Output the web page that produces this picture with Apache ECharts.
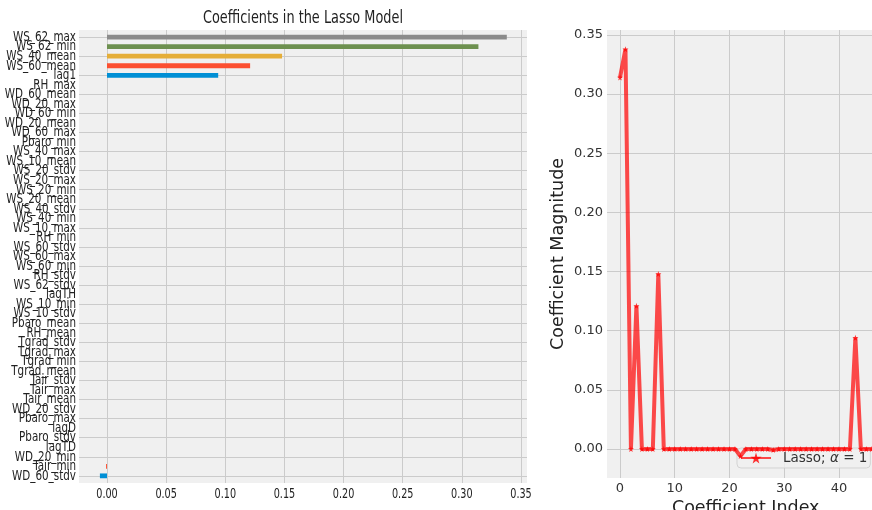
<!DOCTYPE html>
<html>
<head>
<meta charset="utf-8">
<script src="https://cdn.jsdelivr.net/npm/echarts@6/dist/echarts.min.js"></script>
<style>
html,body{margin:0;padding:0;background:#fff;}
#c{width:872px;height:510px;}
</style>
</head>
<body>
<div id="c"></div>
<script>
// Feature names, bottom to top as drawn in the bar chart
const barCategories = [
  'WD_60_stdv','Tair_min','WD_20_min','lagTD','Pbaro_stdv','lagD','Pbaro_max','WD_20_stdv',
  'Tair_mean','Tair_max','Tair_stdv','Tgrad_mean','Tgrad_min','Tgrad_max','Tgrad_stdv','RH_mean',
  'Pbaro_mean','WS_10_stdv','WS_10_min','lagTH','WS_62_stdv','RH_stdv','WS_60_min','WS_60_max',
  'WS_60_stdv','RH_min','WS_10_max','WS_40_min','WS_40_stdv','WS_20_mean','WS_20_min','WS_20_max',
  'WS_20_stdv','WS_10_mean','WS_40_max','Pbaro_min','WD_60_max','WD_20_mean','WD_60_min','WD_20_max',
  'WD_60_mean','RH_max','lag1','WS_60_mean','WS_40_mean','WS_62_min','WS_62_max'
];
const barValues = [
  -0.006, -0.0008, 0, 0, 0, 0, 0, 0,
  0, 0, 0, 0, 0, 0, 0, 0,
  0, 0, 0, 0, 0, 0, 0, 0,
  0, 0, 0, 0, 0, 0, 0, 0,
  0, 0, 0, 0, 0, 0, 0, 0,
  0, 0, 0.094, 0.121, 0.148, 0.314, 0.338
];
// tick labels of the bar chart's value axis
const barTicks = [0, 0.05, 0.10, 0.15, 0.20, 0.25, 0.30, 0.35];
// Lasso coefficients by index (right panel)
const lassoCoef = [
  0.314, 0.338, 0, 0.121, 0, 0, 0, 0.148,
  0, 0, 0, 0, 0, 0, 0, 0, 0, 0, 0, 0, 0, 0,
  -0.006,
  0, 0, 0, 0, 0,
  -0.0008,
  0, 0, 0, 0, 0, 0, 0, 0, 0, 0, 0, 0, 0, 0,
  0.094,
  0, 0, 0
];
const barTitle = 'Coefficients in the Lasso Model';
const lineName = 'Lasso; α = 1';
const xIndexName = 'Coefficient Index';
const yMagName = 'Coefficient Magnitude';

const palette = ['#008fd5','#fc4f30','#e5ae38','#6d904f','#8b8b8b','#810f7c'];
const fam = 'DejaVu Sans';
const dv = '"DejaVu Sans", sans-serif';
const gridColor = '#cbcbcb';

// The left panel's text is horizontally condensed: measure and compress to the reference widths
const cv = document.createElement('canvas').getContext('2d');
function w(txt, size) { cv.font = size + 'px "' + fam + '"'; return cv.measureText(txt).width; }
const ySize = 14.5, titleSize = 17.5, tickSize = 14;
const yScale = 64 / w('WD_60_stdv', ySize);
const titleScale = 200 / w(barTitle, titleSize);
const tickScale = 21.5 / w('0.00', tickSize);

function label(x, y, text, size, sx, align, vAlign) {
  return {type: 'text', x: x, y: y, scaleX: sx, silent: true,
    style: {text: text, x: 0, y: 0, fontSize: size, fontFamily: fam, fill: '#222', align: align, verticalAlign: vAlign}};
}

const xMin0 = -0.02367, xMax0 = 0.35507;

const chart = echarts.init(document.getElementById('c'), null, {renderer: 'canvas'});
chart.setOption({
  backgroundColor: '#ffffff',
  animation: false,
  graphic: [
    {type: 'text', x: 303, y: 18, scaleX: titleScale, silent: true,
      style: {text: barTitle, x: 0, y: 0, fontSize: titleSize, fontFamily: fam, fill: '#222', align: 'center', verticalAlign: 'middle'}}
  ],
  legend: {
    data: [lineName],
    left: 737, top: 448, z: 4,
    padding: [3, 3, 3, 3],
    itemWidth: 30, itemHeight: 14,
    backgroundColor: 'rgba(240,240,240,0.8)',
    borderColor: 'rgba(204,204,204,0.8)', borderWidth: 1, borderRadius: 4,
    formatter: () => 'Lasso; {a|α} = 1',
    textStyle: {fontFamily: dv, fontSize: 13.5, color: '#333', padding: [0, 0, 0, 7],
      rich: {a: {fontFamily: dv, fontSize: 13.5, fontStyle: 'italic', color: '#333'}}}
  },
  grid: [
    {left: 79, top: 30, width: 448, height: 453, show: true, backgroundColor: '#f0f0f0', borderWidth: 0, z: 0, outerBoundsMode: 'none', containLabel: false},
    {left: 79, top: 37.15, width: 448, height: 438.7, show: false, z: 0, outerBoundsMode: 'none', containLabel: false},
    {left: 607, top: 30, width: 277.4, height: 448, show: true, backgroundColor: '#f0f0f0', borderWidth: 0, z: 0, outerBoundsMode: 'none', containLabel: false}
  ],
  xAxis: [
    {gridIndex: 0, type: 'value', min: xMin0, max: xMax0, splitNumber: 8, z: 2,
      axisLine: {show: false}, axisTick: {show: false},
      splitLine: {show: true, showMinLine: false, showMaxLine: false, lineStyle: {color: gridColor, width: 1}},
      axisLabel: {show: false}},
    {gridIndex: 1, type: 'value', min: xMin0, max: xMax0, show: false},
    {gridIndex: 2, type: 'value', min: -2.374, max: 48.3, z: 2,
      axisLine: {show: false}, axisTick: {show: false},
      splitLine: {show: true, showMinLine: false, showMaxLine: false, lineStyle: {color: gridColor, width: 1}},
      axisLabel: {showMinLabel: false, showMaxLabel: false, margin: 4, color: '#333',
        fontFamily: dv, fontSize: 13},
      name: xIndexName, nameLocation: 'middle', nameGap: 11,
      nameTextStyle: {fontFamily: dv, fontSize: 17.5, color: '#222'}}
  ],
  yAxis: [
    {gridIndex: 0, type: 'value', min: 0, max: 1, show: false},
    {gridIndex: 1, type: 'category', data: barCategories, boundaryGap: false, z: 2,
      axisLine: {show: false}, axisTick: {show: false},
      splitLine: {show: true, lineStyle: {color: gridColor, width: 1}},
      axisLabel: {show: false}},
    {gridIndex: 2, type: 'value', min: -0.0245, max: 0.3542, splitNumber: 8, z: 2,
      axisLine: {show: false}, axisTick: {show: false},
      splitLine: {show: true, showMinLine: false, showMaxLine: false, lineStyle: {color: gridColor, width: 1}},
      axisLabel: {showMinLabel: false, showMaxLabel: false, margin: 4, color: '#333',
        fontFamily: dv, fontSize: 13, formatter: v => v.toFixed(2)},
      name: yMagName, nameLocation: 'middle', nameGap: 40,
      nameTextStyle: {fontFamily: dv, fontSize: 17.5, color: '#222'}}
  ],
  series: [
    {type: 'bar', xAxisIndex: 1, yAxisIndex: 1, data: barValues, barWidth: 4.8, clip: false, z: 3,
      itemStyle: {color: p => palette[p.dataIndex % palette.length]}},
    // condensed category labels, placed through the category axis
    {type: 'custom', xAxisIndex: 1, yAxisIndex: 1, clip: false, silent: true, z: 4,
      data: barCategories.map((c, i) => [xMin0, i]),
      renderItem: (params, api) => {
        const p = api.coord([api.value(0), api.value(1)]);
        return label(p[0] - 3, p[1], barCategories[params.dataIndex], ySize, yScale, 'right', 'middle');
      }},
    // condensed value-axis tick labels
    {type: 'custom', xAxisIndex: 0, yAxisIndex: 0, clip: false, silent: true, z: 4,
      data: barTicks.map(v => [v, 0]),
      renderItem: (params, api) => {
        const p = api.coord([api.value(0), api.value(1)]);
        return label(p[0], p[1] + 4, barTicks[params.dataIndex].toFixed(2), tickSize, tickScale, 'center', 'top');
      }},
    {type: 'line', name: lineName, xAxisIndex: 2, yAxisIndex: 2, z: 5,
      data: lassoCoef.map((v, i) => [i, v]),
      symbol: 'path://M50,0 L61,35 L98,35 L68,57 L79,91 L50,70 L21,91 L32,57 L2,35 L39,35 Z',
      symbolSize: 6, showSymbol: true,
      lineStyle: {color: 'rgba(255,0,0,0.7)', width: 4},
      itemStyle: {color: 'rgba(255,0,0,0.8)', borderWidth: 0}}
  ]
});
</script>
</body>
</html>
